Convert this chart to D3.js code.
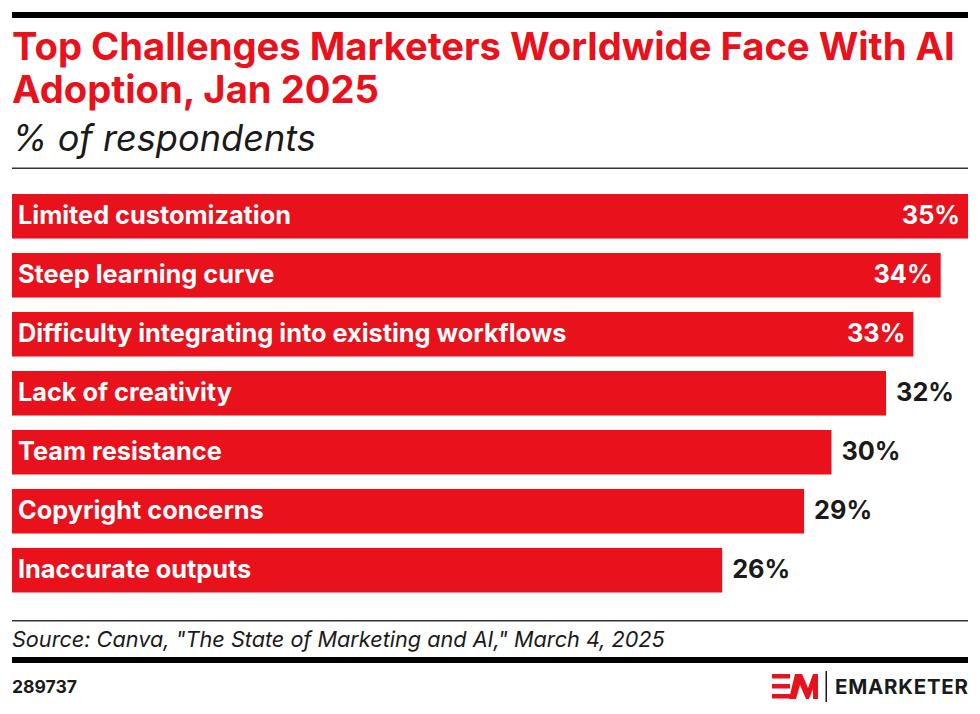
<!DOCTYPE html>
<html>
<head>
<meta charset="utf-8">
<script src="https://cdn.jsdelivr.net/npm/d3@7"></script>
<style>
  html, body { margin: 0; padding: 0; background: #fff; }
  svg { display: block; }
  text { font-family: "Inter", "Lato", "Noto Sans", sans-serif; }
</style>
</head>
<body>
<svg id="chart" width="980" height="714"></svg>
<script>
const titleLines = ["Top Challenges Marketers Worldwide Face With AI", "Adoption, Jan 2025"];
const subtitle = "% of respondents";
const categories = [
  "Limited customization",
  "Steep learning curve",
  "Difficulty integrating into existing workflows",
  "Lack of creativity",
  "Team resistance",
  "Copyright concerns",
  "Inaccurate outputs"
];
const values = [35, 34, 33, 32, 30, 29, 26];
const sourceText = "Source: Canva, \"The State of Marketing and AI,\" March 4, 2025";
const chartId = "289737";

const RED = "#e8111c";
const INK = "#1a1a1a";
const L = 12, R = 968;

const svg = d3.select("#chart");

function fit(sel, target) {
  sel.attr("font-size", 40);
  const w = sel.node().getComputedTextLength();
  sel.attr("font-size", 40 * target / w);
  return 40 * target / w;
}

// top rule
svg.append("rect").attr("x", L).attr("y", 12).attr("width", R - L).attr("height", 6).attr("fill", "#000");

// title
const t1 = svg.append("text").attr("x", L).attr("y", 59.5).attr("fill", RED).attr("font-weight", 700).text(titleLines[0]);
const ts = fit(t1, 943);
svg.append("text").attr("x", L).attr("y", 102.5).attr("fill", RED).attr("font-weight", 700).attr("font-size", ts).text(titleLines[1]);

// subtitle
const st = svg.append("text").attr("x", L).attr("y", 150.5).attr("fill", INK).attr("font-style", "italic").attr("font-weight", 400).text(subtitle);
fit(st, 304);

svg.append("rect").attr("x", L).attr("y", 167.5).attr("width", R - L).attr("height", 1.5).attr("fill", "#333");

// scales
const x = d3.scaleLinear().domain([0, 35]).range([L, R]);
const y = d3.scaleBand().domain(categories).range([194, 592.5]).paddingInner(0.245).paddingOuter(0);

const data = categories.map((c, i) => ({ c, v: values[i] }));

const g = svg.append("g");
g.selectAll("rect.bar").data(data).join("rect")
  .attr("class", "bar")
  .attr("x", x(0))
  .attr("y", d => y(d.c))
  .attr("width", d => x(d.v) - x(0))
  .attr("height", y.bandwidth())
  .attr("fill", RED);

// label font size fitted from first label
const probe = g.append("text").attr("font-weight", 700).text(categories[0]);
const ls = fit(probe, 273);
probe.remove();

g.selectAll("text.cat").data(data).join("text")
  .attr("class", "cat")
  .attr("x", x(0) + 6)
  .attr("y", d => y(d.c) + y.bandwidth() / 2 + ls * 0.29)
  .attr("fill", "#fff")
  .attr("font-weight", 700)
  .attr("font-size", ls)
  .text(d => d.c);

g.selectAll("text.val").data(data).join("text")
  .attr("class", "val")
  .attr("y", d => y(d.c) + y.bandwidth() / 2 + ls * 0.29)
  .attr("font-weight", 700)
  .attr("font-size", ls)
  .text(d => d.v + "%")
  .each(function(d) {
    const w = this.getComputedTextLength();
    const end = x(d.v);
    const s = d3.select(this);
    if (end + 10 + w > R) {
      s.attr("x", end - 8).attr("text-anchor", "end").attr("fill", "#fff");
    } else {
      s.attr("x", end + 10).attr("text-anchor", "start").attr("fill", INK);
    }
  });

// footer
svg.append("rect").attr("x", L).attr("y", 620).attr("width", R - L).attr("height", 1.5).attr("fill", "#333");
const src = svg.append("text").attr("x", L).attr("y", 647).attr("fill", INK).attr("font-style", "italic").text(sourceText);
fit(src, 653);
svg.append("rect").attr("x", L).attr("y", 657).attr("width", R - L).attr("height", 6).attr("fill", "#000");

const idt = svg.append("text").attr("x", L).attr("y", 693).attr("fill", INK).attr("font-weight", 700).text(chartId);
fit(idt, 65);

// logo
const logo = svg.append("g");
[674, 684, 694].forEach(yy => {
  logo.append("rect").attr("x", 772).attr("y", yy).attr("width", 18).attr("height", 4.5).attr("fill", RED);
});
logo.append("polygon")
  .attr("points", "789,699 795,674 802,674 808,688 813,674 818,674 818,699 813,699 813,689 809,699 806,699 800,685 796,699")
  .attr("fill", RED);
logo.append("rect").attr("x", 825.5).attr("y", 671).attr("width", 1.5).attr("height", 31).attr("fill", INK);
logo.append("text").attr("x", 835).attr("y", 694).attr("fill", INK).attr("font-weight", 700)
  .attr("font-size", 20.5).attr("textLength", 133).attr("lengthAdjust", "spacing").text("EMARKETER");
</script>
</body>
</html>
